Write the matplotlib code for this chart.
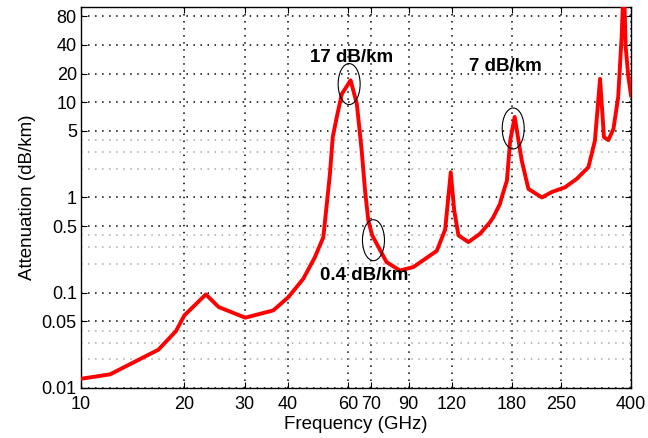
import matplotlib
matplotlib.use("Agg")
import matplotlib.pyplot as plt
from matplotlib.patches import Ellipse
from matplotlib.transforms import ScaledTranslation
from matplotlib.ticker import FixedLocator, NullLocator

# Atmospheric attenuation spectrum
freq_ghz = [10, 12.15, 16.8, 18.9, 20.0, 23.1, 25.2, 30.1, 36.3, 40.2,
            44.4, 48.0, 50.8, 52.0, 53.1, 54.1, 55.6, 57.5, 61.0, 63.6,
            65.7, 67.2, 68.7, 70.5, 77.6, 84.9, 92.9, 108.7, 115.0, 119.4,
            122.2, 125.7, 134.4, 145.3, 155.3, 158.8, 166.2, 168.0, 174.0, 177.8,
            183.3, 192.2, 201.0, 219.9, 235.0, 257.0, 278.0, 300.6, 314.0, 325.0,
            333.6, 343.6, 355.5, 367.0, 376.0, 381.0, 386.0, 393.0, 400.0]
atten_db_km = [0.0125, 0.0139, 0.0252, 0.0395, 0.0578, 0.096, 0.0706, 0.0547, 0.0652, 0.090,
               0.14, 0.236, 0.383, 0.86, 1.77, 4.3, 7.0, 12.2, 17.0, 9.6,
               3.1, 1.18, 0.57, 0.40, 0.21, 0.171, 0.186, 0.275, 0.46, 1.84,
               0.73, 0.40, 0.34, 0.416, 0.55, 0.62, 0.86, 1.0, 1.5, 3.9,
               7.0, 2.44, 1.23, 1.0, 1.14, 1.28, 1.57, 2.08, 3.96, 17.6,
               4.3, 4.0, 5.25, 11.3, 52.0, 200.0, 37.6, 18.3, 11.8]

x_ticks = [10, 20, 30, 40, 60, 70, 90, 120, 180, 250, 400]
x_tick_labels = ["10", "20", "30", "40", "60", "70", "90", "120", "180", "250", "400"]
y_ticks = [0.01, 0.05, 0.1, 0.5, 1, 5, 10, 20, 40, 80]
y_tick_labels = ["0.01", "0.05", "0.1", "0.5", "1", "5", "10", "20", "40", "80"]
y_fine_grid = [0.02, 0.03, 0.04, 0.2, 0.3, 0.4, 2, 3, 4]

callout_labels = ["17 dB/km", "7 dB/km", "0.4 dB/km"]
callout_text_pos = [(61.2, 29.5), (171.8, 24.0), (67.0, 0.152)]
callout_ring_pos = [(60.4, 15.5), (181.5, 5.3), (71.1, 0.356)]

plt.rcParams["font.family"] = ["Liberation Sans", "DejaVu Sans"]

fig = plt.figure(figsize=(6.48, 4.38), dpi=100)
ax = fig.add_axes([0.125, 0.1142, 0.8488, 0.8699])

ax.set_xscale("log")
ax.set_yscale("log")
ax.set_xlim(10, 400)
ax.set_ylim(0.01, 100)

ax.plot(freq_ghz, atten_db_km, color="#ff0000", lw=2.8, solid_joinstyle="round", zorder=3)

ax.set_xticks(x_ticks, x_tick_labels)
ax.set_yticks(y_ticks, y_tick_labels)
ax.xaxis.set_minor_locator(NullLocator())
ax.yaxis.set_minor_locator(FixedLocator(y_fine_grid))
ax.yaxis.set_minor_formatter(plt.NullFormatter())

ax.tick_params(which="major", direction="in", length=4, width=0.8,
               top=True, right=True, labelsize=13, colors="black")
ax.tick_params(axis="x", which="major", pad=6)
ax.tick_params(axis="y", which="major", pad=3)
ax.tick_params(which="minor", length=0)

ax.grid(True, which="major", color="black", lw=1.1, linestyle=(0, (1, 3.6)), zorder=1)
ax.grid(True, which="minor", axis="y", color="#a8a8a8", lw=1.1, linestyle=(0, (1, 3.6)), zorder=1)
ax.set_axisbelow(True)

for s in ax.spines.values():
    s.set_linewidth(1.0)
    s.set_color("black")

ax.set_xlabel("Frequency (GHz)", fontsize=13.5, labelpad=2)
ax.set_ylabel("Attenuation (dB/km)", fontsize=13.5, labelpad=4)

for text, (tx, ty) in zip(callout_labels, callout_text_pos):
    ax.text(tx, ty, text, ha="center", va="center", fontsize=13.5,
            fontweight="bold", color="black", zorder=4)

for (cx, cy) in callout_ring_pos:
    ring = Ellipse((0, 0), 0.22, 0.41, fill=False, edgecolor="black", lw=0.8,
                   transform=fig.dpi_scale_trans + ScaledTranslation(cx, cy, ax.transData),
                   zorder=4)
    ax.add_patch(ring)

fig.savefig("out.png", dpi=100)
